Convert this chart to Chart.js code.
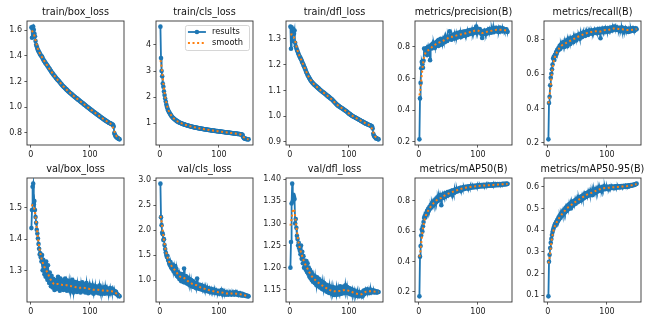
<!DOCTYPE html>
<html lang="en">
<head>
  <meta charset="UTF-8" />
  <title>results</title>
  <script src="https://cdn.jsdelivr.net/npm/chart.js"></script>
  <style>
    body { margin: 0; background: #fff; }
    #fig { position: relative; width: 650px; height: 325px; background: #fff; }
    #fig canvas { position: absolute; }
  </style>
</head>
<body>
  <div id="fig"></div>

  <script>
    // epochs 1..150
    const epochs = Array.from({ length: 150 }, (_, i) => i + 1);

    const titles = ['train/box_loss', 'train/cls_loss', 'train/dfl_loss', 'metrics/precision(B)', 'metrics/recall(B)',
                    'val/box_loss', 'val/cls_loss', 'val/dfl_loss', 'metrics/mAP50(B)', 'metrics/mAP50-95(B)'];

    const legendLabels = ['results', 'smooth'];

    const trainBoxLoss = [
      1.622, 1.541, 1.615, 1.628, 1.603, 1.575, 1.552, 1.515, 1.487, 1.472,
      1.458, 1.445, 1.437, 1.428, 1.419, 1.410, 1.403, 1.398, 1.392, 1.381,
      1.372, 1.364, 1.358, 1.349, 1.343, 1.336, 1.331, 1.322, 1.317, 1.309,
      1.301, 1.296, 1.287, 1.281, 1.272, 1.268, 1.262, 1.255, 1.249, 1.243,
      1.238, 1.230, 1.225, 1.219, 1.214, 1.209, 1.205, 1.199, 1.193, 1.188,
      1.182, 1.177, 1.171, 1.166, 1.161, 1.156, 1.152, 1.147, 1.143, 1.138,
      1.134, 1.129, 1.124, 1.121, 1.116, 1.112, 1.109, 1.104, 1.100, 1.097,
      1.092, 1.089, 1.085, 1.081, 1.077, 1.073, 1.070, 1.066, 1.062, 1.058,
      1.055, 1.051, 1.048, 1.044, 1.040, 1.036, 1.033, 1.029, 1.025, 1.021,
      1.018, 1.014, 1.010, 1.006, 1.003, 0.999, 0.996, 0.992, 0.988, 0.985,
      0.981, 0.978, 0.974, 0.971, 0.967, 0.964, 0.960, 0.957, 0.953, 0.950,
      0.946, 0.943, 0.940, 0.936, 0.933, 0.929, 0.926, 0.922, 0.919, 0.916,
      0.912, 0.909, 0.906, 0.902, 0.899, 0.896, 0.893, 0.890, 0.887, 0.884,
      0.881, 0.878, 0.876, 0.873, 0.871, 0.869, 0.866, 0.864, 0.860, 0.848,
      0.798, 0.785, 0.775, 0.768, 0.764, 0.760, 0.757, 0.754, 0.751, 0.748
    ];

    const trainClsLoss = [
      4.70, 3.50, 3.00, 2.80, 2.52, 2.40, 2.22, 2.08, 1.95, 1.83,
      1.72, 1.63, 1.56, 1.50, 1.45, 1.41, 1.37, 1.33, 1.30, 1.27,
      1.24, 1.21, 1.19, 1.17, 1.15, 1.13, 1.11, 1.10, 1.08, 1.07,
      1.055, 1.04, 1.03, 1.02, 1.01, 1.00, 0.99, 0.98, 0.97, 0.965,
      0.955, 0.948, 0.940, 0.932, 0.925, 0.918, 0.912, 0.905, 0.898, 0.892,
      0.886, 0.880, 0.874, 0.868, 0.862, 0.857, 0.851, 0.846, 0.841, 0.836,
      0.831, 0.826, 0.821, 0.817, 0.812, 0.808, 0.803, 0.799, 0.795, 0.791,
      0.787, 0.783, 0.779, 0.775, 0.771, 0.767, 0.764, 0.760, 0.756, 0.752,
      0.749, 0.745, 0.742, 0.738, 0.735, 0.731, 0.728, 0.725, 0.721, 0.718,
      0.715, 0.712, 0.708, 0.705, 0.702, 0.699, 0.696, 0.693, 0.690, 0.687,
      0.684, 0.681, 0.678, 0.675, 0.672, 0.669, 0.666, 0.663, 0.660, 0.657,
      0.654, 0.651, 0.648, 0.645, 0.642, 0.639, 0.636, 0.633, 0.630, 0.627,
      0.624, 0.621, 0.618, 0.615, 0.612, 0.609, 0.606, 0.603, 0.600, 0.597,
      0.594, 0.591, 0.588, 0.585, 0.582, 0.578, 0.575, 0.571, 0.566, 0.548,
      0.465, 0.432, 0.418, 0.408, 0.401, 0.396, 0.392, 0.388, 0.385, 0.382
    ];

    const trainDflLoss = [
      1.348, 1.262, 1.345, 1.292, 1.340, 1.335, 1.320, 1.333, 1.285, 1.272,
      1.265, 1.258, 1.252, 1.246, 1.240, 1.235, 1.230, 1.226, 1.221, 1.216,
      1.210, 1.205, 1.200, 1.194, 1.188, 1.183, 1.177, 1.171, 1.166, 1.160,
      1.156, 1.152, 1.148, 1.144, 1.140, 1.137, 1.134, 1.131, 1.128, 1.126,
      1.123, 1.121, 1.119, 1.117, 1.115, 1.113, 1.111, 1.109, 1.107, 1.105,
      1.103, 1.101, 1.099, 1.097, 1.095, 1.093, 1.092, 1.090, 1.088, 1.086,
      1.084, 1.082, 1.080, 1.078, 1.077, 1.075, 1.073, 1.071, 1.069, 1.068,
      1.066, 1.063, 1.061, 1.058, 1.056, 1.053, 1.051, 1.048, 1.046, 1.044,
      1.042, 1.040, 1.039, 1.037, 1.036, 1.034, 1.033, 1.031, 1.030, 1.028,
      1.026, 1.025, 1.023, 1.021, 1.020, 1.018, 1.016, 1.014, 1.012, 1.010,
      1.009, 1.007, 1.005, 1.004, 1.002, 1.001, 0.999, 0.998, 0.997, 0.996,
      0.994, 0.993, 0.992, 0.990, 0.989, 0.988, 0.986, 0.985, 0.984, 0.982,
      0.981, 0.980, 0.979, 0.977, 0.976, 0.975, 0.973, 0.972, 0.971, 0.970,
      0.969, 0.968, 0.967, 0.966, 0.965, 0.964, 0.963, 0.962, 0.960, 0.952,
      0.932, 0.925, 0.921, 0.918, 0.916, 0.914, 0.913, 0.912, 0.911, 0.910
    ];

    const precision = [
      0.215, 0.474, 0.572, 0.665, 0.705, 0.690, 0.668, 0.712, 0.790, 0.786,
      0.758, 0.781, 0.792, 0.748, 0.772, 0.801, 0.785, 0.795, 0.716, 0.805,
      0.812, 0.790, 0.818, 0.801, 0.825, 0.807, 0.795, 0.823, 0.812, 0.830,
      0.815, 0.838, 0.806, 0.845, 0.824, 0.812, 0.851, 0.828, 0.842, 0.819,
      0.848, 0.833, 0.856, 0.829, 0.862, 0.841, 0.852, 0.837, 0.866, 0.848,
      0.858, 0.898, 0.851, 0.868, 0.845, 0.872, 0.857, 0.876, 0.863, 0.851,
      0.879, 0.866, 0.885, 0.858, 0.874, 0.889, 0.868, 0.882, 0.872, 0.893,
      0.861, 0.884, 0.876, 0.895, 0.869, 0.887, 0.878, 0.899, 0.872, 0.890,
      0.884, 0.902, 0.876, 0.895, 0.888, 0.907, 0.881, 0.898, 0.891, 0.910,
      0.886, 0.903, 0.895, 0.912, 0.889, 0.905, 0.928, 0.898, 0.915, 0.893,
      0.908, 0.897, 0.912, 0.889, 0.901, 0.878, 0.856, 0.884, 0.897, 0.889,
      0.904, 0.893, 0.882, 0.899, 0.891, 0.906, 0.887, 0.898, 0.912, 0.893,
      0.905, 0.889, 0.914, 0.896, 0.908, 0.893, 0.917, 0.899, 0.910, 0.921,
      0.897, 0.912, 0.903, 0.918, 0.894, 0.909, 0.922, 0.901, 0.914, 0.907,
      0.897, 0.917, 0.905, 0.912, 0.899, 0.908, 0.903, 0.911, 0.898, 0.895
    ];

    const recall = [
      0.220, 0.432, 0.468, 0.535, 0.578, 0.602, 0.628, 0.655, 0.690, 0.700,
      0.682, 0.712, 0.705, 0.728, 0.718, 0.741, 0.735, 0.752, 0.742, 0.765,
      0.748, 0.772, 0.758, 0.779, 0.766, 0.785, 0.770, 0.758, 0.788, 0.776,
      0.795, 0.781, 0.762, 0.799, 0.786, 0.806, 0.790, 0.775, 0.805, 0.795,
      0.810, 0.798, 0.785, 0.815, 0.802, 0.822, 0.808, 0.796, 0.818, 0.825,
      0.812, 0.830, 0.819, 0.805, 0.828, 0.836, 0.822, 0.815, 0.838, 0.829,
      0.842, 0.831, 0.822, 0.845, 0.835, 0.848, 0.838, 0.828, 0.850, 0.840,
      0.852, 0.843, 0.835, 0.855, 0.846, 0.838, 0.852, 0.845, 0.858, 0.842,
      0.855, 0.848, 0.838, 0.860, 0.850, 0.843, 0.862, 0.852, 0.808, 0.856,
      0.848, 0.865, 0.853, 0.845, 0.862, 0.855, 0.868, 0.850, 0.858, 0.846,
      0.865, 0.855, 0.848, 0.868, 0.858, 0.852, 0.870, 0.861, 0.854, 0.872,
      0.862, 0.876, 0.865, 0.858, 0.874, 0.866, 0.857, 0.870, 0.862, 0.855,
      0.868, 0.859, 0.852, 0.865, 0.872, 0.858, 0.850, 0.866, 0.860, 0.852,
      0.868, 0.856, 0.849, 0.864, 0.858, 0.845, 0.862, 0.855, 0.848, 0.866,
      0.852, 0.860, 0.854, 0.868, 0.857, 0.850, 0.863, 0.858, 0.866, 0.861
    ];

    const valBoxLoss = [
      1.435, 1.492, 1.565, 1.575, 1.510, 1.520, 1.492, 1.470, 1.452, 1.430,
      1.418, 1.402, 1.385, 1.370, 1.352, 1.356, 1.342, 1.330, 1.350, 1.302,
      1.335, 1.316, 1.290, 1.322, 1.282, 1.330, 1.300, 1.272, 1.318, 1.288,
      1.262, 1.295, 1.270, 1.252, 1.285, 1.263, 1.248, 1.275, 1.256, 1.240,
      1.268, 1.252, 1.243, 1.272, 1.255, 1.282, 1.248, 1.262, 1.238, 1.276,
      1.258, 1.245, 1.270, 1.252, 1.240, 1.265, 1.250, 1.276, 1.246, 1.260,
      1.238, 1.270, 1.252, 1.244, 1.266, 1.250, 1.236, 1.262, 1.248, 1.272,
      1.245, 1.232, 1.258, 1.246, 1.265, 1.240, 1.252, 1.234, 1.258, 1.244,
      1.262, 1.238, 1.250, 1.232, 1.256, 1.242, 1.264, 1.236, 1.250, 1.240,
      1.258, 1.232, 1.248, 1.262, 1.238, 1.252, 1.230, 1.246, 1.256, 1.235,
      1.248, 1.232, 1.242, 1.255, 1.236, 1.228, 1.248, 1.238, 1.252, 1.232,
      1.244, 1.235, 1.250, 1.230, 1.242, 1.254, 1.236, 1.228, 1.246, 1.238,
      1.230, 1.248, 1.236, 1.242, 1.228, 1.250, 1.238, 1.232, 1.245, 1.236,
      1.240, 1.228, 1.236, 1.246, 1.232, 1.238, 1.230, 1.242, 1.234, 1.238,
      1.232, 1.236, 1.229, 1.234, 1.228, 1.226, 1.225, 1.223, 1.221, 1.220
    ];

    const valClsLoss = [
      2.93, 2.26, 2.10, 1.95, 1.92, 1.80, 1.82, 1.70, 1.62, 1.55,
      1.50, 1.46, 1.48, 1.40, 1.38, 1.33, 1.30, 1.36, 1.25, 1.29,
      1.22, 1.31, 1.18, 1.26, 1.15, 1.28, 1.12, 1.22, 1.08, 1.16,
      1.06, 1.14, 1.02, 1.10, 1.05, 0.98, 1.12, 1.00, 1.08, 0.96,
      1.23, 1.02, 0.95, 1.08, 0.99, 0.93, 1.05, 0.96, 0.91, 1.02,
      0.94, 0.89, 1.00, 0.92, 0.87, 0.98, 0.90, 0.86, 0.95, 0.88,
      0.84, 0.92, 1.03, 0.86, 0.83, 0.91, 0.85, 0.82, 0.90, 0.84,
      0.81, 0.88, 0.83, 0.80, 0.87, 0.82, 0.79, 0.85, 0.81, 0.78,
      0.84, 0.80, 0.77, 0.83, 0.79, 0.76, 0.82, 0.78, 0.76, 0.81,
      0.77, 0.75, 0.80, 0.76, 0.74, 0.79, 0.76, 0.74, 0.78, 0.75,
      0.73, 0.77, 0.74, 0.80, 0.75, 0.72, 0.78, 0.74, 0.71, 0.76,
      0.73, 0.71, 0.75, 0.72, 0.74, 0.71, 0.73, 0.75, 0.72, 0.74,
      0.71, 0.73, 0.75, 0.72, 0.74, 0.71, 0.73, 0.76, 0.72, 0.74,
      0.71, 0.73, 0.70, 0.74, 0.72, 0.70, 0.73, 0.71, 0.69, 0.72,
      0.70, 0.71, 0.69, 0.70, 0.69, 0.68, 0.69, 0.68, 0.68, 0.675
    ];

    const valDflLoss = [
      1.200, 1.258, 1.345, 1.390, 1.350, 1.365, 1.360, 1.355, 1.300, 1.310,
      1.290, 1.272, 1.265, 1.250, 1.256, 1.244, 1.238, 1.230, 1.250, 1.220,
      1.236, 1.210, 1.226, 1.200, 1.216, 1.205, 1.195, 1.215, 1.190, 1.210,
      1.186, 1.200, 1.180, 1.195, 1.176, 1.190, 1.172, 1.185, 1.168, 1.182,
      1.175, 1.165, 1.180, 1.170, 1.160, 1.178, 1.166, 1.158, 1.175, 1.162,
      1.155, 1.170, 1.160, 1.152, 1.168, 1.158, 1.150, 1.165, 1.155, 1.148,
      1.162, 1.153, 1.145, 1.160, 1.150, 1.143, 1.158, 1.148, 1.142, 1.155,
      1.146, 1.140, 1.156, 1.147, 1.138, 1.152, 1.145, 1.140, 1.155, 1.146,
      1.139, 1.153, 1.145, 1.140, 1.158, 1.147, 1.141, 1.155, 1.146, 1.142,
      1.157, 1.148, 1.143, 1.160, 1.150, 1.144, 1.156, 1.147, 1.142, 1.154,
      1.146, 1.140, 1.152, 1.145, 1.139, 1.150, 1.144, 1.138, 1.148, 1.142,
      1.137, 1.146, 1.141, 1.136, 1.145, 1.140, 1.135, 1.144, 1.139, 1.136,
      1.143, 1.138, 1.135, 1.142, 1.148, 1.140, 1.145, 1.150, 1.143, 1.147,
      1.151, 1.144, 1.148, 1.142, 1.149, 1.145, 1.150, 1.144, 1.148, 1.146,
      1.145, 1.148, 1.144, 1.147, 1.145, 1.146, 1.144, 1.146, 1.145, 1.145
    ];

    const mAP50 = [
      0.170, 0.432, 0.502, 0.572, 0.612, 0.598, 0.632, 0.660, 0.688, 0.700,
      0.690, 0.718, 0.708, 0.735, 0.722, 0.748, 0.735, 0.760, 0.748, 0.772,
      0.758, 0.785, 0.768, 0.792, 0.775, 0.800, 0.782, 0.808, 0.790, 0.815,
      0.798, 0.822, 0.805, 0.830, 0.812, 0.838, 0.818, 0.772, 0.825, 0.842,
      0.820, 0.835, 0.848, 0.826, 0.840, 0.852, 0.832, 0.845, 0.858, 0.838,
      0.850, 0.862, 0.842, 0.856, 0.866, 0.848, 0.860, 0.870, 0.852, 0.865,
      0.874, 0.858, 0.870, 0.879, 0.862, 0.874, 0.882, 0.868, 0.878, 0.886,
      0.872, 0.882, 0.888, 0.876, 0.885, 0.891, 0.879, 0.887, 0.893, 0.882,
      0.889, 0.895, 0.884, 0.891, 0.897, 0.886, 0.893, 0.898, 0.888, 0.894,
      0.899, 0.889, 0.895, 0.900, 0.891, 0.897, 0.902, 0.892, 0.898, 0.903,
      0.894, 0.899, 0.904, 0.895, 0.900, 0.905, 0.896, 0.901, 0.906, 0.897,
      0.902, 0.906, 0.898, 0.903, 0.907, 0.899, 0.904, 0.908, 0.900, 0.905,
      0.908, 0.900, 0.905, 0.909, 0.901, 0.906, 0.910, 0.902, 0.907, 0.910,
      0.903, 0.908, 0.911, 0.904, 0.909, 0.912, 0.905, 0.910, 0.912, 0.906,
      0.910, 0.913, 0.908, 0.911, 0.913, 0.909, 0.912, 0.914, 0.911, 0.913
    ];

    const mAP5095 = [
      0.095, 0.255, 0.287, 0.318, 0.342, 0.360, 0.378, 0.392, 0.402, 0.412,
      0.418, 0.428, 0.422, 0.438, 0.432, 0.448, 0.440, 0.458, 0.450, 0.468,
      0.458, 0.475, 0.465, 0.482, 0.470, 0.490, 0.478, 0.495, 0.482, 0.502,
      0.488, 0.508, 0.494, 0.515, 0.498, 0.520, 0.505, 0.522, 0.500, 0.528,
      0.512, 0.530, 0.515, 0.535, 0.520, 0.538, 0.522, 0.542, 0.528, 0.545,
      0.530, 0.548, 0.535, 0.552, 0.538, 0.556, 0.540, 0.558, 0.545, 0.562,
      0.548, 0.565, 0.552, 0.570, 0.555, 0.572, 0.558, 0.575, 0.560, 0.578,
      0.565, 0.580, 0.568, 0.575, 0.562, 0.582, 0.570, 0.585, 0.572, 0.588,
      0.575, 0.590, 0.578, 0.592, 0.580, 0.594, 0.582, 0.595, 0.585, 0.597,
      0.586, 0.598, 0.588, 0.600, 0.590, 0.602, 0.589, 0.598, 0.592, 0.600,
      0.590, 0.598, 0.592, 0.601, 0.594, 0.600, 0.595, 0.602, 0.596, 0.599,
      0.594, 0.601, 0.597, 0.603, 0.596, 0.600, 0.598, 0.604, 0.597, 0.601,
      0.598, 0.603, 0.599, 0.604, 0.600, 0.602, 0.599, 0.605, 0.601, 0.603,
      0.600, 0.606, 0.602, 0.604, 0.601, 0.607, 0.603, 0.606, 0.604, 0.608,
      0.605, 0.609, 0.607, 0.610, 0.608, 0.611, 0.610, 0.612, 0.613, 0.615
    ];

    // tick labels, one list per panel
    const xTickLabels = ['0', '100'];
    const yTickLabels = [
      ['0.8', '1.0', '1.2', '1.4', '1.6'],
      ['1', '2', '3', '4'],
      ['0.9', '1.0', '1.1', '1.2', '1.3'],
      ['0.2', '0.4', '0.6', '0.8'],
      ['0.2', '0.4', '0.6', '0.8'],
      ['1.3', '1.4', '1.5'],
      ['1.0', '1.5', '2.0', '2.5', '3.0'],
      ['1.15', '1.20', '1.25', '1.30', '1.35', '1.40'],
      ['0.2', '0.4', '0.6', '0.8'],
      ['0.1', '0.2', '0.3', '0.4', '0.5', '0.6']
    ];

    const series = [trainBoxLoss, trainClsLoss, trainDflLoss, precision, recall,
                    valBoxLoss, valClsLoss, valDflLoss, mAP50, mAP5095];

    const BLUE = '#1f77b4';
    const ORANGE = '#ff7f0e';
    const FONT = '"DejaVu Sans", sans-serif';

    // axes grid of the figure
    const colLeft = [27, 156, 286, 415, 544];
    const rowTop = [21, 178];
    const AX_W = 97, AX_H = 124;
    const Y_AXIS_W = 26, X_AXIS_H = 18, TOP_PAD = 21, RIGHT_PAD = 6;

    // same thing as scipy's gaussian_filter1d (reflect mode, truncate 4)
    function gaussianSmooth(y, sigma) {
      const r = Math.round(4 * sigma);
      const w = [];
      let sum = 0;
      for (let k = -r; k <= r; k++) {
        const v = Math.exp(-0.5 * k * k / (sigma * sigma));
        w.push(v);
        sum += v;
      }
      const n = y.length;
      const at = i => {
        while (i < 0 || i >= n) {
          if (i < 0) i = -i - 1;
          if (i >= n) i = 2 * n - i - 1;
        }
        return y[i];
      };
      return y.map((_, i) => {
        let acc = 0;
        for (let k = -r; k <= r; k++) acc += w[k + r] * at(i + k);
        return acc / sum;
      });
    }

    // matplotlib style 5% margins
    function padRange(vals) {
      const lo = Math.min(...vals), hi = Math.max(...vals);
      const m = (hi - lo) * 0.05;
      return [lo - m, hi + m];
    }

    // box around the axes + title centred on it
    const framePlugin = {
      id: 'frame',
      afterDraw(chart, args, opts) {
        const { ctx, chartArea: a } = chart;
        ctx.save();
        ctx.strokeStyle = '#333';
        ctx.lineWidth = 0.9;
        ctx.strokeRect(a.left, a.top, a.right - a.left, a.bottom - a.top);
        ctx.fillStyle = '#111';
        ctx.font = '9.7px ' + FONT;
        ctx.textAlign = 'center';
        ctx.textBaseline = 'alphabetic';
        ctx.fillText(opts.text, (a.left + a.right) / 2, a.top - 6.5);
        ctx.restore();
      }
    };

    // legend box drawn inside the axes, upper right
    const legendPlugin = {
      id: 'legendBox',
      afterDraw(chart) {
        const { ctx, chartArea: a } = chart;
        ctx.save();
        ctx.font = '8.3px ' + FONT;
        const tw = Math.max(...legendLabels.map(t => ctx.measureText(t).width));
        const pad = 3, handle = 18, gap = 6;
        const w = pad + handle + gap + tw + pad + 3, h = 25;
        const x = a.right - 4 - w, y = a.top + 4;
        ctx.beginPath();
        ctx.roundRect(x + 0.5, y + 0.5, w, h, 2);
        ctx.fillStyle = 'rgba(255,255,255,0.8)';
        ctx.fill();
        ctx.strokeStyle = '#cccccc';
        ctx.lineWidth = 0.8;
        ctx.stroke();

        const rows = [y + 7, y + 18];
        // results: line with marker
        ctx.strokeStyle = BLUE;
        ctx.lineWidth = 1.8;
        ctx.beginPath();
        ctx.moveTo(x + pad, rows[0]);
        ctx.lineTo(x + pad + handle, rows[0]);
        ctx.stroke();
        ctx.fillStyle = BLUE;
        ctx.beginPath();
        ctx.arc(x + pad + handle / 2, rows[0], 2.3, 0, Math.PI * 2);
        ctx.fill();
        // smooth: dotted
        ctx.strokeStyle = ORANGE;
        ctx.lineWidth = 2;
        ctx.setLineDash([2, 2.6]);
        ctx.beginPath();
        ctx.moveTo(x + pad, rows[1]);
        ctx.lineTo(x + pad + handle, rows[1]);
        ctx.stroke();
        ctx.setLineDash([]);

        ctx.fillStyle = '#111';
        ctx.textAlign = 'left';
        ctx.textBaseline = 'middle';
        legendLabels.forEach((t, i) => ctx.fillText(t, x + pad + handle + gap, rows[i]));
        ctx.restore();
      }
    };

    const fig = document.getElementById('fig');
    const [xMin, xMax] = padRange(epochs);

    series.forEach((vals, idx) => {
      const col = idx % 5, row = Math.floor(idx / 5);
      const cv = document.createElement('canvas');
      cv.width = Y_AXIS_W + AX_W + RIGHT_PAD;
      cv.height = TOP_PAD + AX_H + X_AXIS_H;
      cv.style.left = (colLeft[col] - Y_AXIS_W) + 'px';
      cv.style.top = (rowTop[row] - TOP_PAD) + 'px';
      fig.appendChild(cv);

      const smooth = gaussianSmooth(vals, 3);
      const [yMin, yMax] = padRange(vals);
      const yLabels = yTickLabels[idx];

      const tickFont = { family: FONT, size: 8 };
      const grid = { drawOnChartArea: false, drawTicks: true, tickLength: 2.6, color: '#333', lineWidth: 0.8 };

      new Chart(cv.getContext('2d'), {
        type: 'line',
        data: {
          datasets: [
            {
              label: 'results',
              data: epochs.map((e, i) => ({ x: e, y: vals[i] })),
              borderColor: BLUE,
              backgroundColor: BLUE,
              borderWidth: 1.8,
              pointRadius: 2.3,
              pointBorderWidth: 0,
              pointBackgroundColor: BLUE,
              tension: 0,
              order: 1
            },
            {
              label: 'smooth',
              data: epochs.map((e, i) => ({ x: e, y: smooth[i] })),
              borderColor: ORANGE,
              borderWidth: 2,
              borderDash: [2, 2.6],
              pointRadius: 0,
              tension: 0,
              order: 0
            }
          ]
        },
        options: {
          responsive: false,
          animation: false,
          devicePixelRatio: 1,
          layout: { padding: { top: TOP_PAD, right: RIGHT_PAD, left: 0, bottom: 0 } },
          plugins: {
            legend: { display: false },
            tooltip: { enabled: false },
            frame: { text: titles[idx] }
          },
          scales: {
            x: {
              type: 'linear',
              min: xMin,
              max: xMax,
              afterFit: s => { s.height = X_AXIS_H; },
              afterBuildTicks: s => { s.ticks = xTickLabels.map(t => ({ value: parseFloat(t) })); },
              ticks: {
                autoSkip: false, maxRotation: 0, padding: 2.2, color: '#222', font: tickFont,
                callback: (v, i) => xTickLabels[i]
              },
              grid: grid,
              border: { display: false }
            },
            y: {
              type: 'linear',
              min: yMin,
              max: yMax,
              afterFit: s => { s.width = Y_AXIS_W; },
              afterBuildTicks: s => { s.ticks = yLabels.map(t => ({ value: parseFloat(t) })); },
              ticks: {
                autoSkip: false, padding: 2.4, color: '#222', font: tickFont,
                callback: (v, i) => yLabels[i]
              },
              grid: grid,
              border: { display: false }
            }
          }
        },
        plugins: idx === 1 ? [framePlugin, legendPlugin] : [framePlugin]
      });
    });
  </script>
</body>
</html>
